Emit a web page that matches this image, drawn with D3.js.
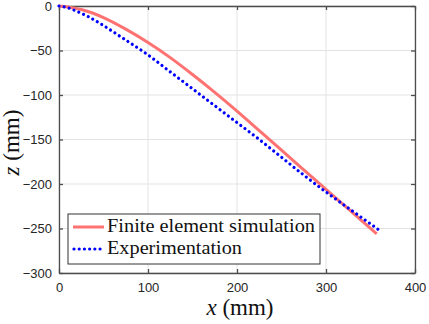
<!DOCTYPE html>
<html>
<head>
<meta charset="utf-8">
<script src="https://cdn.jsdelivr.net/npm/d3@7"></script>
<style>
  body { margin: 0; background: #fff; }
  .tick text { font-family: "Liberation Sans", Arial, sans-serif; font-size: 13px; fill: #262626; }
  .serif { font-family: "Liberation Serif", "DejaVu Serif", serif; }
</style>
</head>
<body>
<div id="chart"></div>
<script>
// Values (x and z in mm)
const femX = [0, 10, 25, 50, 75, 100, 125, 150, 175, 200, 225, 250, 275, 300, 325, 357];
const femZ = [0, -1, -4, -13, -26, -41, -58, -77, -97, -118, -140, -162, -184, -206, -228, -256];
const expX = [0, 10, 20, 33, 50, 70, 100, 125, 150, 175, 200, 225, 250, 275, 300, 325, 360];
const expZ = [0, -2, -6, -12, -22, -35, -55, -74, -93, -112, -131, -150, -170, -190, -209, -227, -252];
const xTicks = [0, 100, 200, 300, 400];
const zTicks = [0, -50, -100, -150, -200, -250, -300];
const seriesNames = ["Finite element simulation", "Experimentation"];

const W = 429, H = 324;
const margin = { top: 6, right: 14, bottom: 51, left: 59 };
const width = W - margin.left - margin.right;
const height = H - margin.top - margin.bottom;

const svg = d3.select("#chart")
    .append("svg")
    .attr("width", W)
    .attr("height", H);

const g = svg.append("g")
    .attr("transform", `translate(${margin.left},${margin.top})`);

const x = d3.scaleLinear().domain([0, 400]).range([0, width]);
const y = d3.scaleLinear().domain([-300, 0]).range([height, 0]);

// Grid lines
g.append("g")
    .selectAll("line")
    .data(xTicks)
    .enter().append("line")
    .attr("x1", d => x(d)).attr("x2", d => x(d))
    .attr("y1", 0).attr("y2", height)
    .attr("stroke", "#e3e3e3").attr("stroke-width", 1);
g.append("g")
    .selectAll("line")
    .data(zTicks)
    .enter().append("line")
    .attr("x1", 0).attr("x2", width)
    .attr("y1", d => y(d)).attr("y2", d => y(d))
    .attr("stroke", "#e3e3e3").attr("stroke-width", 1);

// Axes (ticks pointing inward, box on all sides)
const axisColor = "#4d4d4d";
function styleAxis(sel) {
    sel.select(".domain").attr("stroke", axisColor).attr("stroke-width", 1.3);
    sel.selectAll(".tick line").attr("stroke", axisColor).attr("stroke-width", 1.3);
}
g.append("g")
    .attr("transform", `translate(0,${height})`)
    .call(d3.axisBottom(x).tickValues(xTicks).tickSize(-4).tickSizeOuter(0).tickPadding(10))
    .call(styleAxis);
g.append("g")
    .call(d3.axisTop(x).tickValues(xTicks).tickSize(-4).tickSizeOuter(0).tickFormat(""))
    .call(styleAxis);
g.append("g")
    .call(d3.axisLeft(y).tickValues(zTicks).tickSize(-4).tickSizeOuter(0).tickPadding(7))
    .call(styleAxis);
g.append("g")
    .attr("transform", `translate(${width},0)`)
    .call(d3.axisRight(y).tickValues(zTicks).tickSize(-4).tickSizeOuter(0).tickFormat(""))
    .call(styleAxis);

// Curves
const line = d3.line()
    .x(d => x(d[0]))
    .y(d => y(d[1]))
    .curve(d3.curveMonotoneX);

g.append("path")
    .datum(d3.zip(femX, femZ))
    .attr("fill", "none")
    .attr("stroke", "#ff7272")
    .attr("stroke-width", 3)
    .attr("d", line);

g.append("path")
    .datum(d3.zip(expX, expZ))
    .attr("fill", "none")
    .attr("stroke", "#0000ff")
    .attr("stroke-width", 3.2)
    .attr("stroke-linecap", "round")
    .attr("stroke-dasharray", "0.01 5.2")
    .attr("d", line);

// Legend
const legend = svg.append("g").attr("transform", "translate(68,214)");
legend.append("rect")
    .attr("width", 252).attr("height", 50)
    .attr("fill", "#fff")
    .attr("stroke", "#333").attr("stroke-width", 1);
legend.append("line")
    .attr("x1", 5).attr("x2", 36).attr("y1", 13).attr("y2", 13)
    .attr("stroke", "#ff7272").attr("stroke-width", 3);
legend.append("line")
    .attr("x1", 6).attr("x2", 33).attr("y1", 35).attr("y2", 35)
    .attr("stroke", "#0000ff").attr("stroke-width", 3.2)
    .attr("stroke-linecap", "round")
    .attr("stroke-dasharray", "0.01 5.2");
legend.selectAll("text")
    .data(seriesNames)
    .enter().append("text")
    .attr("class", "serif")
    .attr("x", 39)
    .attr("y", (d, i) => 18 + i * 22)
    .attr("font-size", 18.5)
    .attr("fill", "#111")
    .attr("textLength", (d, i) => i === 0 ? 208 : 135)
    .attr("lengthAdjust", "spacingAndGlyphs")
    .text(d => d);

// Axis labels
const xl = svg.append("text")
    .attr("class", "serif")
    .attr("x", margin.left + width / 2 + 3)
    .attr("y", 315)
    .attr("text-anchor", "middle")
    .attr("font-size", 23)
    .attr("fill", "#111");
xl.append("tspan").attr("font-style", "italic").text("x");
xl.append("tspan").text(" (mm)");

const yl = svg.append("text")
    .attr("class", "serif")
    .attr("transform", `translate(19,${margin.top + height / 2 + 3}) rotate(-90)`)
    .attr("text-anchor", "middle")
    .attr("font-size", 23)
    .attr("fill", "#111");
yl.append("tspan").attr("font-style", "italic").text("z");
yl.append("tspan").text(" (mm)");
</script>
</body>
</html>
